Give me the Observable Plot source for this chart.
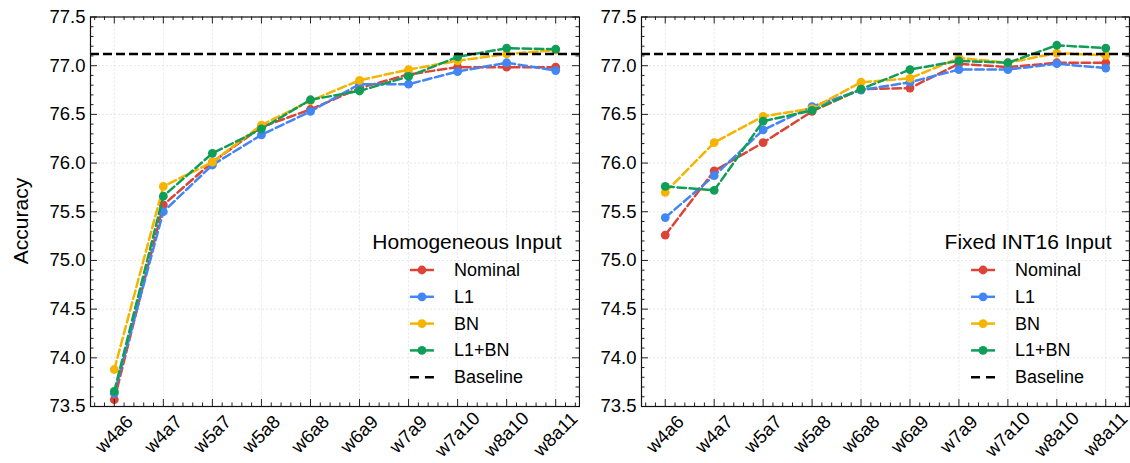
<!DOCTYPE html>
<html><head><meta charset="utf-8">
<script src="https://cdn.jsdelivr.net/npm/d3@7"></script>
<script src="https://cdn.jsdelivr.net/npm/@observablehq/plot@0.6"></script>
<style>
body{margin:0;background:#fff;}
#wrap{display:flex;width:1130px;height:463px;}
#wrap svg{font-family:"Liberation Sans",Arial,Helvetica,sans-serif;overflow:visible;}
</style></head><body><div id="wrap"></div>
<script>
const categories = ["w4a6","w4a7","w5a7","w5a8","w6a8","w6a9","w7a9","w7a10","w8a10","w8a11"];
const seriesNames = ["Nominal","L1","BN","L1+BN"];
const seriesColors = ["#DB4437","#4285F4","#F4B400","#0F9D58"];
const homNominal = [73.57,75.57,76.01,76.37,76.55,76.77,76.91,76.985,76.985,76.985];
const homL1      = [73.635,75.50,75.98,76.29,76.53,76.81,76.81,76.94,77.03,76.95];
const homBN      = [73.88,75.76,76.01,76.39,76.64,76.85,76.96,77.05,77.12,77.16];
const homL1BN    = [73.655,75.66,76.10,76.35,76.65,76.74,76.89,77.09,77.18,77.17];
const fixNominal = [75.26,75.92,76.21,76.53,76.76,76.77,77.02,76.985,77.03,77.03];
const fixL1      = [75.44,75.87,76.34,76.58,76.75,76.83,76.96,76.96,77.02,76.975];
const fixBN      = [75.70,76.21,76.48,76.56,76.83,76.87,77.08,77.03,77.13,77.105];
const fixL1BN    = [75.76,75.72,76.43,76.54,76.76,76.96,77.05,77.03,77.21,77.18];
const baselineAcc = 77.12;
const yTicks = [73.5,74.0,74.5,75.0,75.5,76.0,76.5,77.0,77.5];
const panelTitles = ["Homogeneous Input","Fixed INT16 Input"];
const yLabel = "Accuracy";

const H = 463, MT = 16.5, MB = 57;
const xDomain = [-0.485, 9.485];

function makePanel(values, title, width, marginLeft, marginRight, showYLabel) {
  const plotH = H - MT - MB, plotW = width - marginLeft - marginRight;
  const xMajor = categories.map((_, i) => i);
  const xMinor = d3.range(-2, 48).map(k => k * 0.2)
    .filter(v => Math.abs(v - Math.round(v)) > 1e-6 && v > xDomain[0] && v < xDomain[1]);
  const yMinor = d3.range(735, 776).map(k => k / 10)
    .filter(v => Math.abs(v * 2 - Math.round(v * 2)) > 1e-6);
  const tickStyle = {stroke: "#222", strokeWidth: 1};
  const marks = [
    Plot.gridX(xMajor, {stroke: "#e0e0e0", strokeOpacity: 1, strokeWidth: 0.8, strokeDasharray: "2,2"}),
    Plot.gridY(yTicks, {stroke: "#e0e0e0", strokeOpacity: 1, strokeWidth: 0.8, strokeDasharray: "2,2"})
  ];
  values.forEach((vals, s) => {
    const rows = vals.map((v, i) => ({i, v}));
    marks.push(Plot.line(rows, {x: "i", y: "v", stroke: seriesColors[s], strokeWidth: 2.5, strokeDasharray: "8.5,3.7"}));
    marks.push(Plot.dot(rows, {x: "i", y: "v", fill: seriesColors[s], r: 4.4}));
  });
  marks.push(Plot.ruleY([baselineAcc], {stroke: "black", strokeWidth: 2.5, strokeDasharray: "9,4"}));
  marks.push(
    Plot.tickX(xMajor, {x: d => d, insetTop: plotH - 7, ...tickStyle}),
    Plot.tickX(xMajor, {x: d => d, insetBottom: plotH - 7, ...tickStyle}),
    Plot.tickX(xMinor, {x: d => d, insetTop: plotH - 3.5, ...tickStyle}),
    Plot.tickX(xMinor, {x: d => d, insetBottom: plotH - 3.5, ...tickStyle}),
    Plot.tickY(yTicks, {y: d => d, insetRight: plotW - 7, ...tickStyle}),
    Plot.tickY(yTicks, {y: d => d, insetLeft: plotW - 7, ...tickStyle}),
    Plot.tickY(yMinor, {y: d => d, insetRight: plotW - 3.5, ...tickStyle}),
    Plot.tickY(yMinor, {y: d => d, insetLeft: plotW - 3.5, ...tickStyle}),
    Plot.frame({stroke: "#111", strokeWidth: 1.2}),
    Plot.axisX(xMajor, {tickSize: 0, tickPadding: 28, tickRotate: -45, tickFormat: i => categories[i],
      textAnchor: "middle", lineAnchor: "middle", label: null, fontSize: 18.5, fill: "#000"}),
    Plot.axisY(yTicks, {tickSize: 0, tickPadding: 5, tickFormat: d3.format(".1f"), label: null, fontSize: 18.5, fill: "#000"})
  );
  const chart = Plot.plot({
    width, height: H, marginTop: MT, marginBottom: MB, marginLeft, marginRight,
    x: {type: "linear", domain: xDomain},
    y: {type: "linear", domain: [73.5, 77.5]},
    style: {fontSize: "18px", fontFamily: '"Liberation Sans",Arial,Helvetica,sans-serif', background: "white", color: "#000"},
    marks
  });
  document.getElementById("wrap").appendChild(chart);
  const svg = d3.select(chart);
  if (showYLabel) {
    svg.append("text").attr("transform", "translate(20,221) rotate(-90)")
      .attr("text-anchor", "middle").attr("dominant-baseline", "central")
      .style("font-size", "21px").attr("fill", "#000").text(yLabel);
  }
  const frameRight = width - marginRight;
  const g = svg.append("g").attr("fill", "#000");
  const t = g.append("text").attr("x", frameRight - 17.5).attr("y", MT + 232.5)
    .attr("text-anchor", "end").style("font-size", "21px").text(title);
  const tw = t.node().getComputedTextLength();
  const cx = frameRight - 17.5 - tw / 2;
  const hx0 = cx - 57, hx1 = cx - 33, tx = cx - 13;
  const labels = [...seriesNames, "Baseline"];
  labels.forEach((lab, k) => {
    const yc = MT + 253.5 + k * 26.8;
    if (k < 4) {
      g.append("line").attr("x1", hx0).attr("x2", hx1).attr("y1", yc).attr("y2", yc)
        .attr("stroke", seriesColors[k]).attr("stroke-width", 2.5);
      g.append("circle").attr("cx", (hx0 + hx1) / 2).attr("cy", yc).attr("r", 4.4).attr("fill", seriesColors[k]);
    } else {
      g.append("line").attr("x1", hx0).attr("x2", hx1).attr("y1", yc).attr("y2", yc)
        .attr("stroke", "black").attr("stroke-width", 2.5).attr("stroke-dasharray", "9,6");
    }
    g.append("text").attr("x", tx).attr("y", yc).attr("text-anchor", "start")
      .attr("dominant-baseline", "central").style("font-size", "18px").text(lab);
  });
}

makePanel([homNominal, homL1, homBN, homL1BN], panelTitles[0], 580, 90, 1, true);
makePanel([fixNominal, fixL1, fixBN, fixL1BN], panelTitles[1], 550, 61, 1, false);
</script></body></html>
